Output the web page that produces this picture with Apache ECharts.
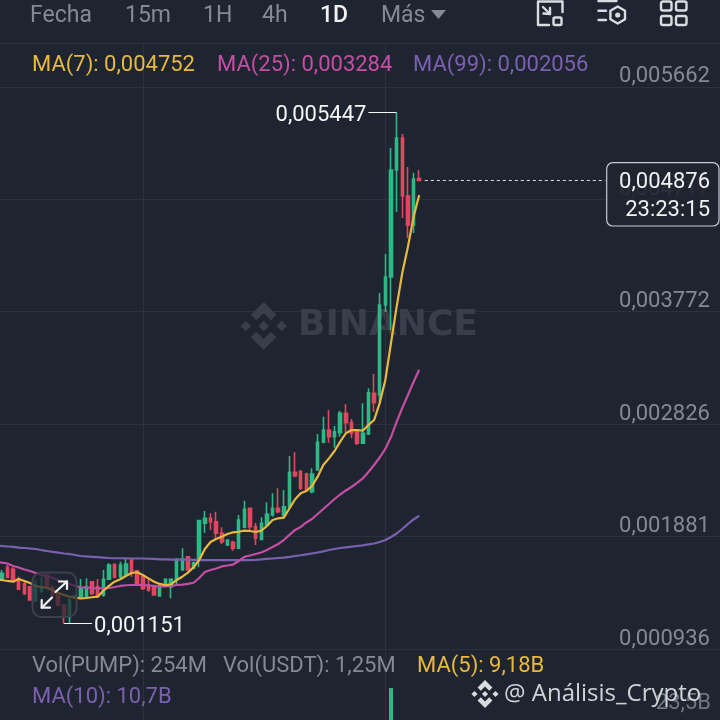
<!DOCTYPE html>
<html><head><meta charset="utf-8">
<script src="https://cdn.jsdelivr.net/npm/echarts@6/dist/echarts.min.js"></script>
<style>html,body{margin:0;padding:0;background:#1f2530}#c{width:720px;height:720px}</style>
</head><body><div id="c"></div>
<script>
// prices in millionths of USDT (5662 = 0,005662); the first candle sits just off the left edge
const open = [1570,1530,1623,1606,1522,1483,1460,1342,1418,1558,1460,1404,1306,1208,1365,1376,1376,1502,1460,1390,1522,1648,1544,1558,1684,1594,1544,1474,1460,1382,1466,1460,1516,1600,1712,1615,1684,1993,2035,2006,1909,1810,1833,1783,1959,2119,1964,1858,1979,2063,2119,2063,2132,2422,2427,2407,2259,2441,2674,2777,2721,2755,2918,2839,2777,2666,2744,3086,3072,3828,4064,4963,5232,4745,4501,4892];
const close = [1530,1573,1539,1516,1438,1404,1348,1446,1460,1460,1390,1306,1208,1348,1385,1446,1460,1404,1376,1522,1642,1539,1642,1651,1573,1474,1446,1432,1390,1466,1522,1522,1690,1693,1600,1662,2015,2035,2006,1909,1838,1852,1783,2021,2111,1964,1867,1993,2069,2119,2090,2132,2422,2393,2287,2273,2407,2674,2777,2721,2763,2918,2839,2750,2666,2750,3091,3007,3828,4064,4963,5232,4745,4501,4888,4876];
const low = [1525,1516,1530,1502,1432,1390,1342,1334,1413,1446,1376,1298,1151,1152,1360,1371,1371,1390,1371,1376,1516,1530,1530,1544,1544,1466,1432,1418,1384,1376,1460,1362,1474,1594,1594,1606,1623,1914,1937,1858,1819,1802,1763,1774,1951,1937,1810,1852,1964,2048,2077,2048,2119,2380,2273,2259,2245,2435,2666,2670,2629,2721,2763,2708,2651,2660,2735,2931,3004,3770,3618,4610,4560,4392,4434,4870];
const high = [1580,1600,1642,1623,1544,1502,1466,1516,1544,1564,1466,1418,1314,1362,1390,1525,1530,1508,1525,1600,1657,1651,1670,1693,1693,1600,1550,1530,1466,1483,1530,1530,1699,1783,1718,1670,2021,2096,2077,2090,1959,1858,1847,2063,2183,2124,1998,2043,2169,2245,2287,2273,2559,2590,2441,2418,2455,2744,2889,2945,2811,2940,2993,2870,2783,3002,3128,3248,3929,4257,5148,5447,5266,4989,4938,4961];
const ma7 = [1520,1516,1508,1502,1525,1508,1491,1466,1457,1449,1432,1409,1390,1376,1367,1362,1365,1371,1376,1426,1466,1502,1522,1550,1575,1581,1558,1530,1502,1483,1472,1480,1516,1544,1578,1623,1684,1777,1836,1861,1880,1903,1917,1922,1931,1928,1920,1931,1970,2021,2035,2040,2119,2195,2245,2264,2306,2385,2483,2539,2601,2679,2750,2777,2777,2771,2819,2861,3004,3198,3509,3812,4097,4316,4568,4752];
const ma25 = [1668,1662,1655,1634,1621,1604,1592,1575,1558,1546,1533,1516,1499,1483,1466,1455,1453,1449,1446,1447,1449,1457,1466,1472,1474,1474,1474,1470,1466,1460,1462,1466,1474,1478,1483,1493,1533,1583,1600,1613,1630,1638,1646,1676,1710,1722,1735,1747,1768,1794,1819,1852,1895,1937,1962,2000,2029,2071,2113,2155,2197,2235,2269,2298,2332,2370,2424,2483,2546,2618,2718,2845,2962,3072,3181,3284];
const ma99 = [1806,1802,1798,1794,1789,1785,1781,1777,1768,1760,1752,1747,1739,1735,1726,1718,1714,1711,1708,1705,1701,1699,1699,1698,1697,1697,1697,1695,1693,1690,1689,1688,1687,1687,1687,1686,1684,1684,1684,1684,1684,1684,1684,1683,1684,1684,1686,1689,1693,1697,1701,1705,1711,1718,1724,1731,1739,1747,1757,1768,1777,1785,1791,1796,1802,1808,1815,1823,1836,1852,1878,1907,1945,1987,2025,2056];
const priceTicks = [936,1881,2826,3772,4717,5662];
const volumeBar = [[70,34.4]];      // billions; the only bar tall enough to show
const volumeTicks = [23.5];
const highValue = 5447, lowValue = 1151, lastValue = 4876;
const lastCountdown = '23:23:15';
const tabs = ['Fecha','15m','1H','4h','1D','Más'];
const slots = Array.from({length:129},(_,i)=>String(i));

const FONT = 'Roboto, "Noto Sans", sans-serif';
const GREEN='#2eb886', RED='#e2475f', GOLD='#e8b93e', PINK='#c44ea4', PURPLE='#7c60b0', GRID='#2b313d', GRAY='#848a94';
const fmt = v => '0,' + String(v).padStart(6,'0');

function txt(x,y,t,fill,size,extra){
  return {type:'text',z:100,x:x,y:y,style:Object.assign({text:t,fill:fill,font:`${size||22}px ${FONT}`,textVerticalAlign:'middle'},extra||{})};
}
function logo(cx,cy,r,fill,z,opacity){
  const P=pts=>({type:'polygon',z:z,shape:{points:pts.map(p=>[cx+p[0]*r,cy+p[1]*r])},style:{fill:fill,opacity:opacity}});
  const d=.22, s=.75;
  const dia=(a,b)=>P([[a,b-d],[a+d,b],[a,b+d],[a-d,b]]);
  return [dia(0,0),dia(-s,0),dia(s,0),
    P([[0,-1],[.53,-.47],[.3,-.24],[0,-.54],[-.3,-.24],[-.53,-.47]]),
    P([[0,1],[.53,.47],[.3,.24],[0,.54],[-.3,.24],[-.53,.47]])];
}
function stroke(shapeType,shape,color,w,z,extra){
  return {type:shapeType,z:z||100,shape:shape,style:Object.assign({stroke:color,lineWidth:w,fill:'none',lineCap:'round',lineJoin:'round'},extra||{})};
}
const IC='#d9dce1';
function rr(x,y,w,h){return stroke('rect',{x,y,width:w,height:h,r:2},IC,2.4);}
const graphics = [
  ...logo(263.7,326,24,'#393f4a',1,1),
  {type:'text',z:1,x:298,y:326,style:{text:'BINANCE',fill:'#393f4a',font:'bold 36px "DejaVu Sans", sans-serif',textVerticalAlign:'middle'}},
  // toolbar
  txt(30,16,tabs[0],GRAY,23), txt(125,16,tabs[1],GRAY,23), txt(203,16,tabs[2],GRAY,23),
  txt(262,16,tabs[3],GRAY,23), {type:'text',z:100,x:320,y:16,style:{text:tabs[4],fill:'#f0f1f3',font:`500 23px ${FONT}`,textVerticalAlign:'middle'}},
  txt(381,16,tabs[5],GRAY,23),
  {type:'polygon',z:100,shape:{points:[[431,10],[446,10],[438.5,19]]},style:{fill:GRAY}},
  // icon 1
  stroke('polyline',{points:[[562.5,12],[562.5,1.5],[538,1.5],[538,25],[549,25]]},IC,2.4),
  stroke('rect',{x:553.5,y:17.5,width:8,height:7.5,r:1.5},IC,2.4),
  stroke('polyline',{points:[[543,7],[550,14]]},IC,2.4),
  stroke('polyline',{points:[[543.5,13.5],[550,14],[550,8]]},IC,2.4),
  // icon 2
  stroke('line',{x1:598.5,y1:1,x2:616.5,y2:1},IC,2.4),
  stroke('line',{x1:598.5,y1:10.7,x2:606,y2:10.7},IC,2.4),
  stroke('line',{x1:598.5,y1:20,x2:606,y2:20},IC,2.4),
  stroke('polygon',{points:[[617.7,6.5],[625,10.7],[625,19.3],[617.7,23.5],[610.4,19.3],[610.4,10.7]]},IC,2.4),
  {type:'circle',z:100,shape:{cx:617.7,cy:15,r:2.6},style:{fill:IC}},
  // icon 3
  rr(661,1.5,10.5,9), rr(676,1.5,10.5,9), rr(661,16,10.5,9), rr(676,16,10.5,9),
  // legends
  txt(32,65.5,'MA(7): 0,004752',GOLD), txt(217,65.5,'MA(25): 0,003284',PINK), txt(413,65.5,'MA(99): 0,002056',PURPLE),
  txt(32,666,'Vol(PUMP): 254M',GRAY), txt(223,666,'Vol(USDT): 1,25M',GRAY), txt(417,666,'MA(5): 9,18B',GOLD),
  txt(32,697.5,'MA(10): 10,7B',PURPLE),
  // last price box
  {type:'rect',z:90,shape:{x:606.7,y:162.7,width:112.3,height:63.3,r:6},style:{fill:'rgba(31,37,48,0.9)',stroke:'#c8ccd2',lineWidth:1.2}},
  {type:'text',z:100,x:710,y:182,style:{text:fmt(lastValue),fill:'#eef0f2',font:`22px ${FONT}`,textAlign:'right',textVerticalAlign:'middle'}},
  {type:'text',z:100,x:710,y:210,style:{text:lastCountdown,fill:'#eef0f2',font:`22px ${FONT}`,textAlign:'right',textVerticalAlign:'middle'}},
  // expand button
  {type:'rect',z:90,shape:{x:32.5,y:572.5,width:44,height:44.5,r:9},style:{fill:'rgba(31,37,48,0.72)',stroke:'#3b414c',lineWidth:2}},
  stroke('line',{x1:55.5,y1:592,x2:67,y2:581.5},'#eef0f2',2.2,100),
  stroke('polyline',{points:[[59,581.5],[67,581.5],[67,589]]},'#eef0f2',2.2,100),
  stroke('line',{x1:41.7,y1:607.7,x2:52,y2:597.5},'#eef0f2',2.2,100),
  stroke('polyline',{points:[[41.7,600],[41.7,607.7],[50,607.7]]},'#eef0f2',2.2,100),
  // image watermark
  ...logo(485,694,14,'#e4e6e9',100,.95),
  {type:'text',z:100,x:504,y:694,style:{text:'@ Análisis_Crypto',fill:'rgba(228,230,233,.9)',font:'24px "Open Sans", sans-serif',textVerticalAlign:'middle'}}
];

const vLines = {z:1,silent:true,symbol:'none',label:{show:false},lineStyle:{color:GRID,width:1,type:'solid'},data:[{xAxis:26},{xAxis:69}]};
const segLabel = {show:true,color:'#f4f5f6',fontSize:22,fontFamily:FONT,distance:2,offset:[0,3]};

const chart = echarts.init(document.getElementById('c'),null,{renderer:'canvas'});
chart.setOption({
  animation:false,
  backgroundColor:'#1f2530',
  grid:[{left:-6.64,width:727.56,top:43,height:606,outerBoundsMode:'none'},{left:-6.64,width:727.56,top:649,height:121,outerBoundsMode:'none'}],
  xAxis:[
    {type:'category',gridIndex:0,data:slots,axisLine:{show:false},axisTick:{show:false},axisLabel:{show:false},splitLine:{show:false}},
    {type:'category',gridIndex:1,data:slots,axisLine:{show:false},axisTick:{show:false},axisLabel:{show:false},splitLine:{show:false}}
  ],
  yAxis:[
    {type:'value',gridIndex:0,position:'right',min:936,max:6031,scale:true,
     axisLine:{show:false},
     axisTick:{show:false,customValues:priceTicks.concat([6031])},
     axisLabel:{inside:true,margin:11,customValues:priceTicks,color:GRAY,fontSize:22,lineHeight:20,fontFamily:FONT,verticalAlign:'bottom',formatter:v=>fmt(v)},
     splitLine:{show:true,lineStyle:{color:GRID,width:1}}},
    {type:'value',gridIndex:1,position:'right',min:0,max:50.8,
     axisLine:{show:false},axisTick:{show:false,customValues:volumeTicks},splitLine:{show:false},
     axisLabel:{inside:true,margin:10,customValues:volumeTicks,color:'rgba(132,138,148,.8)',fontSize:22,fontFamily:FONT,verticalAlign:'bottom',formatter:v=>String(v).replace('.',',')+'B'}}
  ],
  series:[
    {type:'line',data:[],xAxisIndex:0,yAxisIndex:0,markLine:vLines},
    {type:'line',data:[],xAxisIndex:1,yAxisIndex:1,markLine:vLines},
    {type:'bar',xAxisIndex:1,yAxisIndex:1,data:volumeBar,barWidth:4,itemStyle:{color:GREEN}},
    {type:'candlestick',xAxisIndex:0,yAxisIndex:0,barWidth:3,
     data:open.map((o,i)=>[o,close[i],low[i],high[i]]),
     itemStyle:{color:GREEN,color0:RED,borderColor:GREEN,borderColor0:RED,borderWidth:1.6},
     markLine:{silent:true,symbol:'none',animation:false,
       data:[
         [{coord:[66,highValue],lineStyle:{color:'#f4f5f6',width:1,type:'solid'},label:Object.assign({position:'start',formatter:fmt(highValue)},segLabel)},{coord:[71,highValue]}],
         [{coord:[12,lowValue],lineStyle:{color:'#f4f5f6',width:1,type:'solid'},label:Object.assign({position:'end',formatter:fmt(lowValue)},segLabel)},{coord:[17,lowValue]}],
         [{coord:[76,lastValue],lineStyle:{color:'#dfe2e6',width:1,type:[3,3]},label:{show:false}},{coord:[108,lastValue]}]
       ]}},
    {type:'line',xAxisIndex:0,yAxisIndex:0,data:ma99,showSymbol:false,lineStyle:{color:PURPLE,width:2.2}},
    {type:'line',xAxisIndex:0,yAxisIndex:0,data:ma25,showSymbol:false,lineStyle:{color:PINK,width:2.2}},
    {type:'line',xAxisIndex:0,yAxisIndex:0,data:ma7,showSymbol:false,lineStyle:{color:GOLD,width:2.2}}
  ],
  graphic:{elements:graphics}
});
</script></body></html>
